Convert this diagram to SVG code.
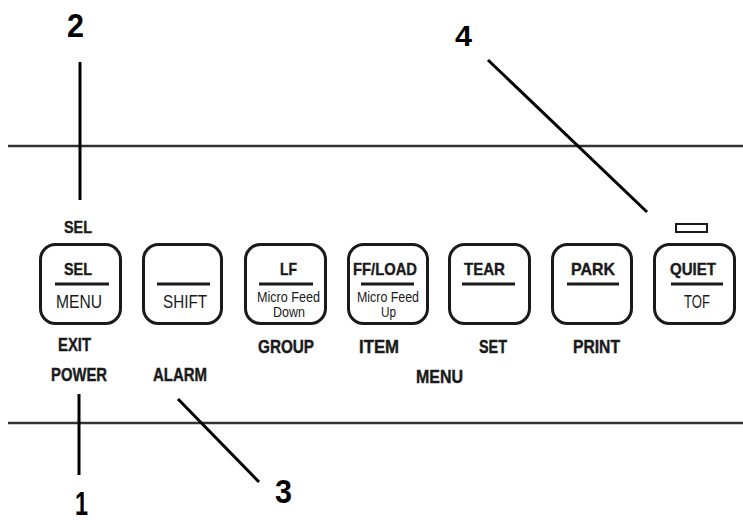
<svg xmlns="http://www.w3.org/2000/svg" width="743" height="520" viewBox="0 0 743 520">
<style>
.key{fill:#fff;stroke:#1a1a1a;stroke-width:3}
.div{stroke:#1a1a1a;stroke-width:3}
.rule{stroke:#333;stroke-width:2.5}
.lead{stroke:#000;stroke-width:3;fill:none}
text{font-family:"Liberation Sans",Arial,sans-serif;fill:#1a1a1a}
.b{font-weight:bold;font-size:17px;stroke:#1a1a1a;stroke-width:0.4}
.lb{font-weight:bold;font-size:18px;stroke:#1a1a1a;stroke-width:0.4}
.r{font-size:18px}
.s{font-size:14px}
.n{font-weight:bold;font-size:33px;fill:#000}
</style>
<rect width="743" height="520" fill="#fff"/>
<g id="panel-edges">
<line class="rule" x1="8" y1="146" x2="743" y2="146"/>
<line class="rule" x1="8" y1="423" x2="743" y2="423"/>
</g>
<g id="key-sel">
<rect class="key" x="40.5" y="244.5" width="80" height="79" rx="15"/>
<text class="b" x="64" y="275" textLength="28" lengthAdjust="spacingAndGlyphs">SEL</text>
<line class="div" x1="55" y1="284" x2="109" y2="284"/>
<text class="r" x="56" y="308" textLength="46" lengthAdjust="spacingAndGlyphs">MENU</text>
</g>
<g id="key-shift">
<rect class="key" x="143.5" y="244.5" width="78" height="79" rx="15"/>
<line class="div" x1="157" y1="284" x2="210" y2="284"/>
<text class="r" x="163" y="308" textLength="44" lengthAdjust="spacingAndGlyphs">SHIFT</text>
</g>
<g id="key-lf">
<rect class="key" x="245.5" y="244.5" width="80" height="79" rx="15"/>
<text class="b" x="280" y="275" textLength="17" lengthAdjust="spacingAndGlyphs">LF</text>
<line class="div" x1="259" y1="284" x2="313" y2="284"/>
<text class="s" x="257" y="302" textLength="63" lengthAdjust="spacingAndGlyphs">Micro Feed</text>
<text class="s" x="273" y="317" textLength="32" lengthAdjust="spacingAndGlyphs">Down</text>
</g>
<g id="key-ffload">
<rect class="key" x="348.5" y="244.5" width="79" height="79" rx="15"/>
<text class="b" x="353" y="275" textLength="64" lengthAdjust="spacingAndGlyphs">FF/LOAD</text>
<line class="div" x1="361" y1="284" x2="414" y2="284"/>
<text class="s" x="357" y="302" textLength="62" lengthAdjust="spacingAndGlyphs">Micro Feed</text>
<text class="s" x="381" y="317" textLength="15" lengthAdjust="spacingAndGlyphs">Up</text>
</g>
<g id="key-tear">
<rect class="key" x="449.5" y="244.5" width="80" height="79" rx="15"/>
<text class="b" x="464" y="275" textLength="41" lengthAdjust="spacingAndGlyphs">TEAR</text>
<line class="div" x1="462" y1="284" x2="515" y2="284"/>
</g>
<g id="key-park">
<rect class="key" x="552.5" y="244.5" width="79" height="79" rx="15"/>
<text class="b" x="571" y="275" textLength="44" lengthAdjust="spacingAndGlyphs">PARK</text>
<line class="div" x1="567" y1="284" x2="619" y2="284"/>
</g>
<g id="key-quiet">
<rect class="key" x="654.5" y="244.5" width="80" height="79" rx="15"/>
<text class="b" x="670" y="275" textLength="46" lengthAdjust="spacingAndGlyphs">QUIET</text>
<line class="div" x1="671" y1="284" x2="723" y2="284"/>
<text class="r" x="684" y="308" textLength="26" lengthAdjust="spacingAndGlyphs">TOF</text>
</g>
<g id="led">
<rect x="676" y="224" width="31" height="8" fill="#fff" stroke="#1a1a1a" stroke-width="2"/>
</g>
<g id="labels">
<text class="b" x="64" y="233" textLength="28" lengthAdjust="spacingAndGlyphs">SEL</text>
<text class="lb" x="58" y="351" textLength="33" lengthAdjust="spacingAndGlyphs">EXIT</text>
<text class="lb" x="51" y="381" textLength="56" lengthAdjust="spacingAndGlyphs">POWER</text>
<text class="lb" x="153" y="381" textLength="54" lengthAdjust="spacingAndGlyphs">ALARM</text>
<text class="lb" x="258" y="353" textLength="56" lengthAdjust="spacingAndGlyphs">GROUP</text>
<text class="lb" x="359" y="353" textLength="40" lengthAdjust="spacingAndGlyphs">ITEM</text>
<text class="lb" x="479" y="353" textLength="28" lengthAdjust="spacingAndGlyphs">SET</text>
<text class="lb" x="573" y="353" textLength="47" lengthAdjust="spacingAndGlyphs">PRINT</text>
<text class="lb" x="416" y="383" textLength="47" lengthAdjust="spacingAndGlyphs">MENU</text>
</g>
<g id="callout-numbers">
<text class="n" x="67" y="37" textLength="17" lengthAdjust="spacingAndGlyphs">2</text>
<text class="n" x="455" y="46" style="font-size:29px" textLength="17" lengthAdjust="spacingAndGlyphs">4</text>
<text class="n" x="75" y="515" textLength="13" lengthAdjust="spacingAndGlyphs">1</text>
<text class="n" x="275" y="503" textLength="17" lengthAdjust="spacingAndGlyphs">3</text>
</g>
<g id="connectors">
<line class="lead" x1="80" y1="62" x2="80" y2="200"/>
<line class="lead" x1="79" y1="394" x2="79" y2="475"/>
<line class="lead" x1="178" y1="399" x2="259" y2="482"/>
<line class="lead" x1="488" y1="60" x2="647" y2="212"/>
</g>
</svg>
